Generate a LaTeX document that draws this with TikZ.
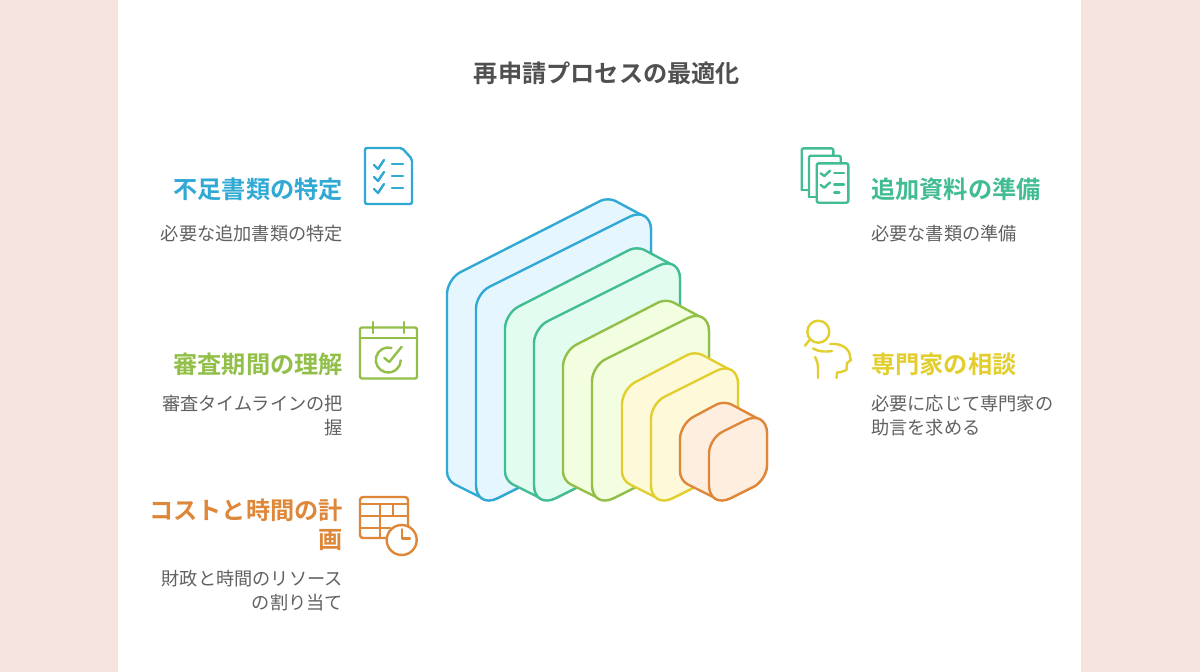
\documentclass[tikz,border=0pt]{standalone}
\usepackage{fontspec}
\setmainfont{Noto Sans CJK JP}[BoldFont={Noto Sans CJK JP Bold}]
\definecolor{pagepink}{HTML}{F6E4E1}
\definecolor{textgrey}{HTML}{505050}
\definecolor{lineblue}{HTML}{30A9D4}
\definecolor{softblue}{HTML}{E6F6FE}
\definecolor{linegreen}{HTML}{42BC92}
\definecolor{softgreen}{HTML}{E2FCEF}
\definecolor{lineolive}{HTML}{92BF48}
\definecolor{softolive}{HTML}{F3FDDF}
\definecolor{lineyellow}{HTML}{E2CF2F}
\definecolor{softyellow}{HTML}{FEF9D9}
\definecolor{lineorange}{HTML}{DF8739}
\definecolor{softorange}{HTML}{FEEEE0}
\tikzset{
    headtext/.style={font=\bfseries\fontsize{24.2}{29}\selectfont, inner sep=0pt},
    bodytext/.style={font=\fontsize{18.2}{24}\selectfont, text=textgrey!90, inner sep=0pt},
    icon/.style={line width=2.4pt, line cap=round, line join=round}
}
\begin{document}
\begin{tikzpicture}[x=1pt, y=-1pt]
    % page
    \fill[pagepink] (0,0) rectangle (1200,672);
    \fill[white] (118,0) rectangle (1081,672);

    \node[font=\bfseries\fontsize{24.2}{29}\selectfont, text=textgrey, inner sep=0pt] (title) at (607,73) {再申請プロセスの最適化};

    % panels, back to front
    \foreach \px/\py/\pw/\pn in {476/293.5/175/blue, 534/328/146/green, 592/366/117/olive, 651/403.5/87/yellow, 709/438.5/58/orange} {
        \pgfmathsetmacro{\ph}{509-\py}
        \begin{scope}[shift={(\px,\py)}, line width=2.4pt, draw=line\pn, fill=soft\pn, line join=round]
            \filldraw (-29,{(\ph-43)/2}) [rounded corners=15pt] -- (-29,-14.5) [rounded corners=8.5pt] -- ({\pw-43},{-\pw/2-9}) -- (\pw,{-\pw/2+14}) [rounded corners=15pt] -- (\pw,{\ph-\pw/2}) [rounded corners=8.5pt] -- (14,{\ph-7}) -- (-29,{\ph-28.5}) -- cycle;
            \filldraw (0,{\ph/2}) [rounded corners=15pt] -- (0,0) [rounded corners=24pt] -- (\pw,{-\pw/2}) [rounded corners=15pt] -- (\pw,{\ph-\pw/2}) [rounded corners=24pt] -- (0,\ph) [rounded corners=15pt] -- cycle;
        \end{scope}
    }

    % left labels
    \node[headtext, text=lineblue, anchor=east] (lack) at (343,189) {不足書類の特定};
    \node[bodytext, anchor=east, align=right] (lackbody) at (343,234) {必要な追加書類の特定};
    \node[headtext, text=lineolive, anchor=east] (term) at (343,364) {審査期間の理解};
    \node[bodytext, anchor=east, align=right] (termbody) at (343,416) {審査タイムラインの把\\握};
    \node[headtext, text=lineorange, anchor=east, align=right] (cost) at (343,525) {コストと時間の計\\画};
    \node[bodytext, anchor=east, align=right] (costbody) at (343,591) {財政と時間のリソース\\の割り当て};

    % right labels
    \node[headtext, text=linegreen, anchor=west] (docs) at (871,189) {追加資料の準備};
    \node[bodytext, anchor=west, align=left] (docsbody) at (871,234) {必要な書類の準備};
    \node[headtext, text=lineyellow, anchor=west] (expert) at (871,364) {専門家の相談};
    \node[bodytext, anchor=west, align=left] (expertbody) at (871,416) {必要に応じて専門家の\\助言を求める};

    % checklist icon
    \begin{scope}[icon, draw=lineblue]
        \draw[rounded corners=2pt] (365,148) -- (402,148) -- (412,159) -- (412,204) -- (365,204) -- cycle;
        \foreach \ry in {0,12,24} {
            \draw (374,{165+\ry}) -- (378,{169+\ry}) -- (384,{160+\ry});
            \draw (392,{164+\ry}) -- (403,{164+\ry});
        }
    \end{scope}

    % calendar icon
    \begin{scope}[icon, draw=lineolive]
        \draw[rounded corners=2pt] (360,327.5) rectangle (417,378.5);
        \draw (360,338) -- (417,338);
        \draw (372.7,322) -- (372.7,333);
        \draw (404,322) -- (404,333);
        \draw (391.5,347.9) arc[start angle=-75, end angle=-358, radius=12.5];
        \draw (384.3,358) -- (389.3,362) -- (401.7,346.7);
    \end{scope}

    % table and clock icon
    \begin{scope}[icon, draw=lineorange]
        \draw[rounded corners=3pt] (386,538) -- (360,538) -- (360,497) -- (408,497) -- (408,526);
        \draw (360,504) -- (408,504);
        \draw (360,516) -- (408,516);
        \draw (360,527.7) -- (390,527.7);
        \draw (380,504) -- (380,538);
        \draw (393,504) -- (393,516);
        \draw (401.7,540) circle[radius=15];
        \draw (401.7,529.3) -- (401.7,538.3) -- (410,538.3);
    \end{scope}

    % document stack icon
    \begin{scope}[icon, draw=linegreen, rounded corners=2pt]
        \draw (801.7,190) -- (801.7,148.3) -- (833.3,148.3) -- (833.3,155.7);
        \draw (801.7,190) -- (809,190);
        \draw (809,196.7) -- (809,155.7) -- (840.7,155.7) -- (840.7,163.3);
        \draw (809,196.7) -- (816.7,196.7);
        \draw (816.7,163.3) rectangle (848.3,202.7);
        \foreach \ry in {0,11.7} {
            \draw[rounded corners=0pt] (820.7,{173.3+\ry}) -- (824.3,{176+\ry}) -- (830,{170.7+\ry});
            \draw (834.3,{172.7+\ry}) -- (844,{172.7+\ry});
        }
        \draw (834.3,192.3) -- (839.3,192.3);
    \end{scope}

    % head and magnifier icon
    \begin{scope}[icon, draw=lineyellow]
        \draw (818.3,331.7) circle[radius=11];
        \draw (810,339.3) -- (805,345.7);
        \draw (830,344) .. controls (842,343) and (850,349) .. (850,357) -- (851,360) -- (847,363) -- (846.5,370) -- (841,372) -- (837,372.5) -- (836.5,378);
        \draw (813,348.5) .. controls (819,352) and (826,352) .. (832,351);
        \draw (815,357) .. controls (817,361) and (818,364) .. (818,368) -- (818,378);
    \end{scope}
\end{tikzpicture}
\end{document}
